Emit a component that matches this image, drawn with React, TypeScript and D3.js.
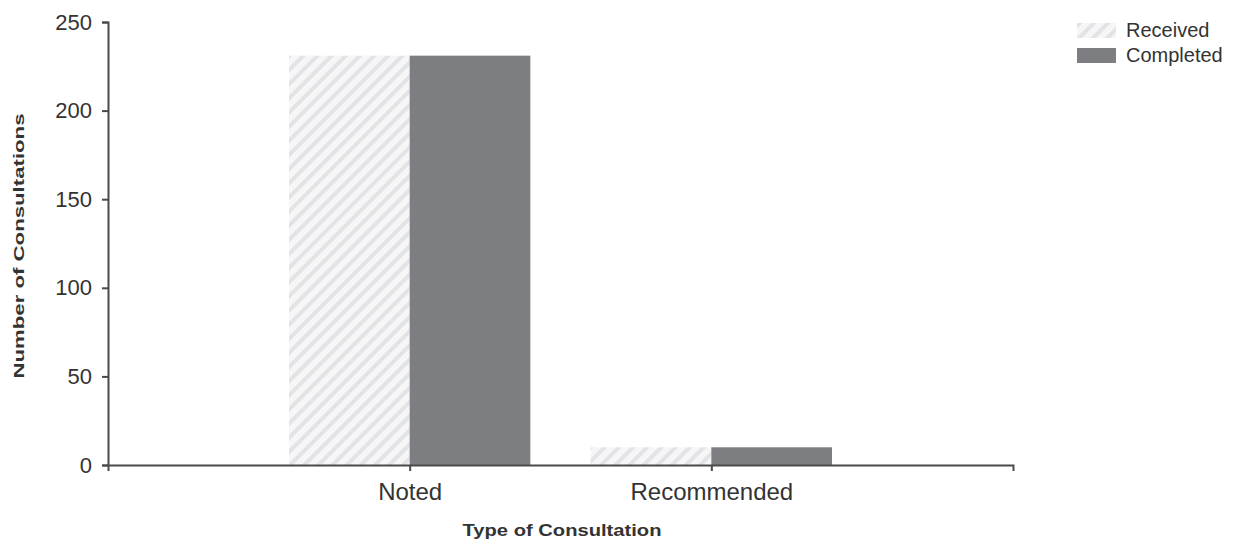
import React, { useEffect, useRef } from 'react';
import * as d3 from 'd3';

const categories = ['Noted', 'Recommended'];
const seriesNames = ['Received', 'Completed'];
const received = [231, 10];
const completed = [231, 10];
const yTicks = [0, 50, 100, 150, 200, 250];

const App: React.FC = () => {
  const svgRef = useRef<SVGSVGElement>(null);
  const width = 1235;
  const height = 542;

  useEffect(() => {
    if (!svgRef.current) return;
    const margin = { top: 22, right: 222, bottom: 77, left: 108 };
    const innerWidth = width - margin.left - margin.right;
    const innerHeight = height - margin.top - margin.bottom;
    const font = "'Liberation Sans', Arial, sans-serif";
    const axisColor = '#4a4a4a';

    d3.select(svgRef.current).selectAll('*').remove();
    const root = d3.select(svgRef.current);

    // hatch pattern for "Received"
    const defs = root.append('defs');
    const pat = defs.append('pattern')
      .attr('id', 'hatch')
      .attr('patternUnits', 'userSpaceOnUse')
      .attr('width', 10)
      .attr('height', 10)
      .attr('patternTransform', 'rotate(45)');
    pat.append('rect').attr('width', 10).attr('height', 10).attr('fill', '#f6f6f7');
    pat.append('rect').attr('width', 4).attr('height', 10).attr('fill', '#e2e3e6');

    const svg = root.append('g')
      .attr('transform', `translate(${margin.left},${margin.top})`);

    const x = d3.scalePoint<string>()
      .domain(categories)
      .range([0, innerWidth])
      .padding(1);

    const barW = x.step() * 0.4;

    const y = d3.scaleLinear()
      .domain([0, 250])
      .range([innerHeight, 0]);

    const rows = categories.map((c, i) => ({ cat: c, received: received[i], completed: completed[i] }));

    svg.selectAll('rect.received')
      .data(rows)
      .enter()
      .append('rect')
      .attr('class', 'received')
      .attr('x', d => (x(d.cat) || 0) - barW)
      .attr('y', d => y(d.received))
      .attr('width', barW)
      .attr('height', d => innerHeight - y(d.received))
      .attr('fill', 'url(#hatch)');

    svg.selectAll('rect.completed')
      .data(rows)
      .enter()
      .append('rect')
      .attr('class', 'completed')
      .attr('x', d => x(d.cat) || 0)
      .attr('y', d => y(d.completed))
      .attr('width', barW)
      .attr('height', d => innerHeight - y(d.completed))
      .attr('fill', '#7c7e82');

    // Axes
    const xAxis = svg.append('g')
      .attr('transform', `translate(0,${innerHeight})`)
      .call(d3.axisBottom(x).tickSize(6).tickSizeOuter(6));
    xAxis.selectAll('path, line').attr('stroke', axisColor).attr('stroke-width', 2);
    xAxis.selectAll('text')
      .attr('font-family', font)
      .attr('font-size', 24)
      .attr('fill', '#333')
      .attr('dy', '1.08em');

    const yAxis = svg.append('g')
      .call(d3.axisLeft(y).tickValues(yTicks).tickSize(6).tickSizeOuter(6));
    yAxis.selectAll('path, line').attr('stroke', axisColor).attr('stroke-width', 2);
    yAxis.selectAll('text')
      .attr('font-family', font)
      .attr('font-size', 22)
      .attr('fill', '#333')
      .attr('x', -16);

    // Axis titles
    root.append('text')
      .attr('transform', `translate(24,246) rotate(-90)`)
      .attr('text-anchor', 'middle')
      .attr('font-family', font)
      .attr('font-size', 15)
      .attr('font-weight', 'bold')
      .attr('fill', '#333')
      .attr('textLength', 265)
      .attr('lengthAdjust', 'spacingAndGlyphs')
      .text('Number of Consultations');

    root.append('text')
      .attr('x', 562)
      .attr('y', 536)
      .attr('text-anchor', 'middle')
      .attr('font-family', font)
      .attr('font-size', 17)
      .attr('font-weight', 'bold')
      .attr('fill', '#333')
      .attr('textLength', 199)
      .attr('lengthAdjust', 'spacingAndGlyphs')
      .text('Type of Consultation');

    // Legend
    const legend = root.append('g').attr('transform', 'translate(1077,23)');
    seriesNames.forEach((name, i) => {
      const g = legend.append('g').attr('transform', `translate(0,${i * 25})`);
      g.append('rect')
        .attr('width', 39)
        .attr('height', 15)
        .attr('fill', i === 0 ? 'url(#hatch)' : '#7c7e82');
      g.append('text')
        .attr('x', 49)
        .attr('y', 14)
        .attr('font-family', font)
        .attr('font-size', 20)
        .attr('fill', '#333')
        .text(name);
    });
  }, []);

  return (
    <svg
      ref={svgRef}
      width={width}
      height={height}
      style={{ position: 'absolute', left: 0, top: 0, background: '#fff' }}
    ></svg>
  );
};

export default App;
